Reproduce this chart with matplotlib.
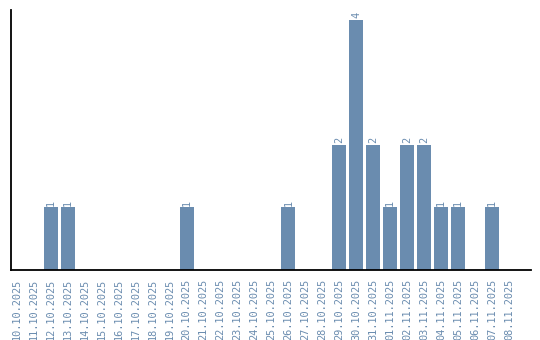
import matplotlib
matplotlib.use("Agg")
import matplotlib.pyplot as plt

dates = ["10.10.2025", "11.10.2025", "12.10.2025", "13.10.2025", "14.10.2025",
         "15.10.2025", "16.10.2025", "17.10.2025", "18.10.2025", "19.10.2025",
         "20.10.2025", "21.10.2025", "22.10.2025", "23.10.2025", "24.10.2025",
         "25.10.2025", "26.10.2025", "27.10.2025", "28.10.2025", "29.10.2025",
         "30.10.2025", "31.10.2025", "01.11.2025", "02.11.2025", "03.11.2025",
         "04.11.2025", "05.11.2025", "06.11.2025", "07.11.2025", "08.11.2025"]
counts = [0, 0, 1, 1, 0, 0, 0, 0, 0, 0,
          1, 0, 0, 0, 0, 0, 1, 0, 0, 2,
          4, 2, 1, 2, 2, 1, 1, 0, 1, 0]

color = "#6a8caf"
fig = plt.figure(figsize=(5.4, 3.4), dpi=100)
ax = fig.add_axes([0.0204, 0.206, 0.963, 0.765])
x = list(range(len(dates)))
ax.bar(x, counts, width=0.82, color=color)
for xi, c in zip(x, counts):
    if c > 0:
        ax.text(xi, c + 0.03, str(c), rotation=90, ha="center", va="bottom",
                fontsize=7.4, color=color, family="DejaVu Sans Mono")
ax.set_xlim(-0.35, 30.3)
ax.set_ylim(0, 4.16)
ax.set_xticks(x)
ax.set_xticklabels(dates, rotation=90, fontsize=7.4, color=color, family="DejaVu Sans Mono")
ax.tick_params(axis="x", length=0, pad=6)
ax.set_yticks([])
for s in ["top", "right"]:
    ax.spines[s].set_visible(False)
for s in ["left", "bottom"]:
    ax.spines[s].set_linewidth(1.3)
    ax.spines[s].set_color("black")
fig.savefig("out.png", dpi=100)
